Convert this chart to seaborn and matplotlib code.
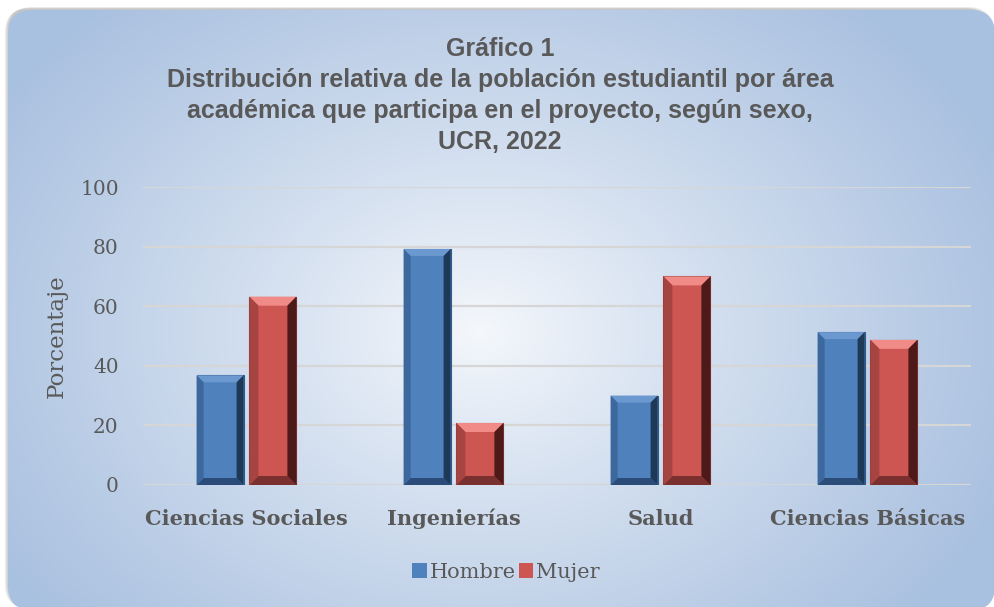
import numpy as np
import pandas as pd
import matplotlib
matplotlib.use("Agg")
import matplotlib.pyplot as plt
from matplotlib.patches import FancyBboxPatch, Polygon
from matplotlib.colors import to_rgb
import seaborn as sns

# Datos del gráfico
areas = ["Ciencias Sociales", "Ingenierías", "Salud", "Ciencias Básicas"]
hombre = [36.8, 79.2, 30.0, 51.3]
mujer = [63.2, 20.8, 70.0, 48.7]
sexos = ["Hombre", "Mujer"]

df = pd.DataFrame({
    "area": areas * 2,
    "sexo": ["Hombre"] * len(areas) + ["Mujer"] * len(areas),
    "pct": hombre + mujer,
})

W, H = 995, 607
sns.set_style("white")
plt.rcParams["font.family"] = ["DejaVu Serif"]
fig = plt.figure(figsize=(W / 100, H / 100), dpi=100, facecolor="white")

# Fondo: rectángulo redondeado con degradado radial
bg = fig.add_axes([0, 0, 1, 1])
bg.set_xlim(0, W)
bg.set_ylim(H, 0)
bg.axis("off")
xx, yy = np.meshgrid(np.arange(W), np.arange(H))
r = np.sqrt(((xx - 480) / 560) ** 2 + ((yy - 330) / 430) ** 2)
r = np.clip(r, 0, 1) ** 0.9
c0 = np.array(to_rgb("#F5F8FC"))
c1 = np.array(to_rgb("#AAC1E0"))
img = c0[None, None, :] * (1 - r[..., None]) + c1[None, None, :] * r[..., None]
for k, a in enumerate([0.05, 0.05, 0.06, 0.08]):
    sh = FancyBboxPatch((8 - k, 10 - 3 + k * 0.5), 985, 600, boxstyle="round,pad=0,rounding_size=24",
                        facecolor="black", edgecolor="none", alpha=a, zorder=0)
    bg.add_patch(sh)
card = FancyBboxPatch((8, 10), 987, 600, boxstyle="round,pad=0,rounding_size=24",
                      facecolor="none", edgecolor="none", zorder=1)
bg.add_patch(card)
im = bg.imshow(img, extent=(0, W, H, 0), zorder=1, interpolation="bilinear")
im.set_clip_path(card)

# Área del gráfico
ax = fig.add_axes([143 / W, 1 - 485 / H, (971 - 143) / W, (485 - 187) / H])
ax.set_facecolor("none")
palette = {"Hombre": "#4F81BD", "Mujer": "#CD5652"}
sns.barplot(data=df, x="area", y="pct", hue="sexo", hue_order=sexos, order=areas,
            palette=palette, width=0.51, gap=0.11, saturation=1,
            edgecolor="none", linewidth=0, ax=ax, zorder=3)

ax.set_xlim(-0.5, 3.5)
ax.set_ylim(0, 100)
ax.set_yticks(range(0, 101, 20))
ax.yaxis.grid(True, color="#D6D6D6", linewidth=1.6, zorder=0)
ax.set_axisbelow(True)
sns.despine(ax=ax, left=True, bottom=True)
ax.tick_params(axis="both", length=0)
ax.tick_params(axis="y", labelsize=14.5, labelcolor="#595959", pad=17.5)
ax.tick_params(axis="x", labelsize=15, labelcolor="#595959", pad=17)
for t in ax.get_xticklabels():
    t.set_fontweight("bold")
ax.set_xlabel("")
ax.set_ylabel("Porcentaje", fontsize=16.5, color="#595959", labelpad=9)

# Efecto biselado en las barras
px_x = (3.5 - (-0.5)) / (971 - 143)
px_y = 100 / (485 - 187)
bevel = {
    "Hombre": dict(b=7, top="#6C98D0", left="#3C689E", right="#1E3857", bottom="#2B4C78", edge="#2F5A8E"),
    "Mujer": dict(b=9, top="#F08B87", left="#A64442", right="#4E1A19", bottom="#7A302E", edge="#8E3A38"),
}
for cont, sexo in zip(ax.containers, sexos):
    st = bevel[sexo]
    for bar in cont:
        x0, y0 = bar.get_x(), bar.get_y()
        x1, y1 = x0 + bar.get_width(), y0 + bar.get_height()
        dx, dy = st["b"] * px_x, st["b"] * px_y
        polys = [
            ([(x0, y1), (x1, y1), (x1 - dx, y1 - dy), (x0 + dx, y1 - dy)], st["top"]),
            ([(x0, y0), (x1, y0), (x1 - dx, y0 + dy), (x0 + dx, y0 + dy)], st["bottom"]),
            ([(x0, y0), (x0 + dx, y0 + dy), (x0 + dx, y1 - dy), (x0, y1)], st["left"]),
            ([(x1, y0), (x1 - dx, y0 + dy), (x1 - dx, y1 - dy), (x1, y1)], st["right"]),
        ]
        for pts, col in polys:
            ax.add_patch(Polygon(pts, closed=True, facecolor=col, edgecolor="none", zorder=4))
        bar.set_edgecolor(st["edge"])
        bar.set_linewidth(0.8)

# Leyenda
sns.move_legend(ax, "center", bbox_to_anchor=(506 / W, 1 - 572 / H), bbox_transform=fig.transFigure,
                ncol=2, frameon=False, title=None, fontsize=15, handlelength=0.7, handleheight=0.7,
                handletextpad=0.12, columnspacing=0.15, labelcolor="#595959")

# Título
fig.text(500 / W, 1 - 37 / H,
         "Gráfico 1\nDistribución relativa de la población estudiantil por área\n"
         "académica que participa en el proyecto, según sexo,\nUCR, 2022",
         ha="center", va="top", fontsize=18, fontweight="bold", color="#595959",
         family=["Liberation Sans", "DejaVu Sans"], linespacing=1.36)

fig.savefig("out.png", dpi=100, facecolor="white")
